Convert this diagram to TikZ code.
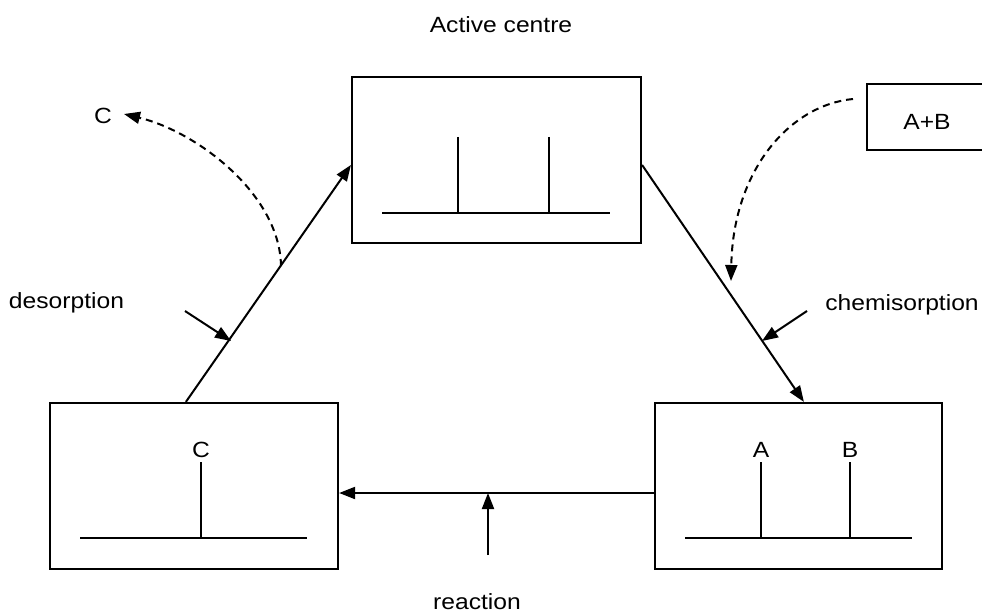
\documentclass[tikz,border=0pt]{standalone}
\usepackage{fontspec}
\setmainfont[FakeStretch=1.12]{Liberation Sans}
\usetikzlibrary{arrows.meta,calc}
\tikzset{
  boxnode/.style={draw, line width=2.2pt, minimum height=166pt, inner sep=0pt},
  lab/.style={font=\fontsize{22}{26}\selectfont, inner sep=0pt, anchor=base},
  conn/.style={line width=2pt, -{Triangle[length=16pt,width=12pt]}},
  dconn/.style={line width=2pt, dash pattern=on 7pt off 5pt, -{Triangle[length=16pt,width=12pt]}},
  surf/.style={line width=2.2pt},
}
\begin{document}
\begin{tikzpicture}[x=1pt,y=-1pt]
\clip (0,0) rectangle (982,612);
\fill[white] (0,0) rectangle (982,612);
% boxes
\node[boxnode, minimum width=289pt] (tb) at (496.5,160) {};
\node[boxnode, minimum width=288pt] (bl) at (194,486) {};
\node[boxnode, minimum width=287pt] (br) at (798.5,486) {};
\node[draw, line width=2.2pt, minimum width=140pt, minimum height=66pt, inner sep=0pt] (ab) at (937,117) {};
% surfaces
\draw[surf] (382,213) -- (610,213);
\draw[surf] (458,137) -- (458,213);
\draw[surf] (549,137) -- (549,213);
\draw[surf] (80,538) -- (307,538);
\draw[surf] (201,462) -- (201,538);
\draw[surf] (685,538) -- (912,538);
\draw[surf] (761,462) -- (761,538);
\draw[surf] (850,462) -- (850,538);
% labels
\node[lab] (tact) at (501,33) {Active centre};
\node[lab] (tdes) at (66.5,308) {desorption};
\node[lab] (tchem) at (902,310) {chemisorption};
\node[lab] (treac) at (477,609) {reaction};
\node[lab] (tc) at (103,124) {C};
\node[lab] (tab) at (927,130) {A+B};
\node[lab] (tcs) at (201,457) {C};
\node[lab] (tas) at (761,457) {A};
\node[lab] (tbs) at (850,457) {B};
% main connectors
\draw[conn] ($(bl.north west)+(137,0)$) -- ([yshift=-5pt]tb.west);
\draw[conn] ([yshift=-5pt]tb.east) -- ($(br.north west)+(150,0)$);
\draw[conn] ([yshift=-7pt]br.west) -- ([yshift=-7pt]bl.east);
% small arrows
\coordinate (ds) at (185,311); \coordinate (de) at (231,341);
\coordinate (cs) at (807,311); \coordinate (ce) at (762,341);
\coordinate (rs) at (488,555); \coordinate (re) at (488,493);
\draw[conn] (ds) -- (de);
\draw[conn] (cs) -- (ce);
\draw[conn] (rs) -- (re);
% dashed curves
\coordinate (c0) at (281,266); \coordinate (c1) at (124,114);
\draw[dconn] (c0) .. controls (280,195) and (198,132) .. (c1);
\coordinate (a0) at (853,99); \coordinate (a1) at (731,281);
\draw[dconn] (a0) .. controls (790,105) and (733,170) .. (a1);
\end{tikzpicture}
\end{document}
